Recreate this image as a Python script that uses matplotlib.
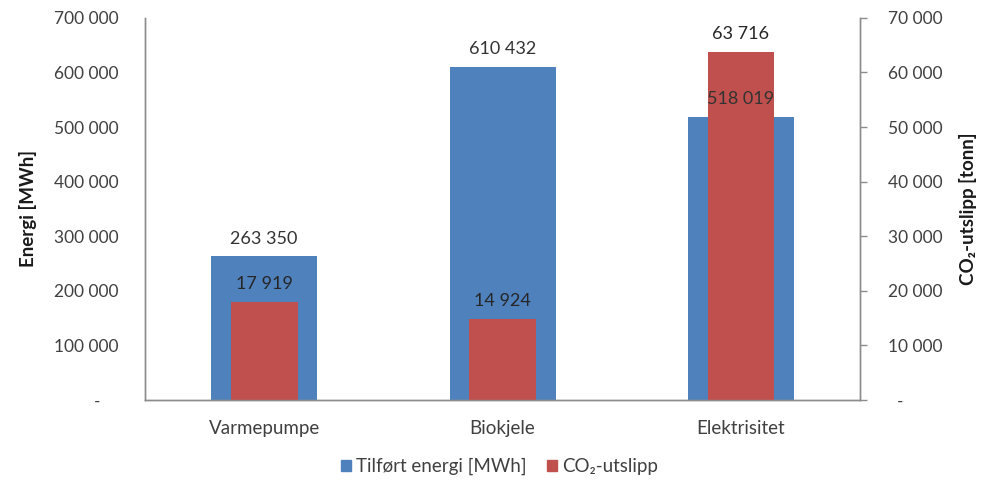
import matplotlib
matplotlib.use("Agg")
import matplotlib.pyplot as plt
from matplotlib.ticker import FuncFormatter, MultipleLocator
from matplotlib.patches import Patch

plt.rcParams['font.family'] = ['Lato', 'DejaVu Sans']

categories = ["Varmepumpe", "Biokjele", "Elektrisitet"]
energy_mwh = [263350, 610432, 518019]
co2_tonn = [17919, 14924, 63716]

BLUE = "#4F81BD"
RED = "#C0504D"
AXIS = "#8C8C8C"
TEXT = "#404040"


def spaced(v):
    return f"{int(round(v)):,}".replace(",", " ")


def left_fmt(v, pos):
    return "-    " if v == 0 else spaced(v)


def right_fmt(v, pos):
    return "  -" if v == 0 else spaced(v)


fig = plt.figure(figsize=(9.83, 4.82), dpi=100)
ax = fig.add_axes([0.1475, 0.17, 0.7275, 0.793])
ax2 = ax.twinx()

x = list(range(len(categories)))
ax.bar(x, energy_mwh, width=0.445, color=BLUE, zorder=2)
ax2.bar(x, co2_tonn, width=0.28, color=RED, zorder=2)

ax.set_xlim(-0.5, 2.5)
ax.set_ylim(0, 700000)
ax2.set_ylim(0, 70000)
ax.yaxis.set_major_locator(MultipleLocator(100000))
ax2.yaxis.set_major_locator(MultipleLocator(10000))
ax.yaxis.set_major_formatter(FuncFormatter(left_fmt))
ax2.yaxis.set_major_formatter(FuncFormatter(right_fmt))

for a in (ax, ax2):
    a.spines['top'].set_visible(False)
    for s in ('left', 'right', 'bottom'):
        a.spines[s].set_color(AXIS)
        a.spines[s].set_linewidth(1.0)

ax.set_xticks(x)
ax.set_xticklabels(categories, fontsize=13.5, color=TEXT)
ax.tick_params(axis='x', length=0, pad=14)
ax.tick_params(axis='y', length=0, pad=19, labelsize=12.5, labelcolor=TEXT)
ax2.tick_params(axis='y', length=5, width=1, color=AXIS, pad=15,
                labelsize=12.5, labelcolor=TEXT)

ax.set_ylabel("Energi [MWh]", fontsize=13.5, fontweight='bold', color='#1a1a1a',
              labelpad=12)
ax2.set_ylabel("CO₂-utslipp [tonn]", fontsize=13.5, fontweight='bold',
               color='#1a1a1a', labelpad=12)

# value labels, drawn on the top axes so they sit above both bar sets
for xi, v in zip(x, energy_mwh):
    ax2.annotate(spaced(v), xy=(xi, v), xycoords=ax.transData,
                 xytext=(0, 7), textcoords='offset points',
                 ha='center', va='bottom', fontsize=13, color='#333333',
                 zorder=5)
for xi, v in zip(x, co2_tonn):
    ax2.annotate(spaced(v), xy=(xi, v), xycoords=ax2.transData,
                 xytext=(0, 7), textcoords='offset points',
                 ha='center', va='bottom', fontsize=13, color='#262626',
                 zorder=5)

handles = [Patch(color=BLUE, label="Tilført energi [MWh]"),
           Patch(color=RED, label="CO₂-utslipp")]
fig.legend(handles=handles, loc='center', bbox_to_anchor=(0.508, 0.032),
           ncol=2, frameon=False, fontsize=13.5, handlelength=0.55,
           handleheight=0.55, handletextpad=0.25, columnspacing=1.1,
           labelcolor=TEXT)

fig.savefig("out.png", dpi=100, facecolor='white')
